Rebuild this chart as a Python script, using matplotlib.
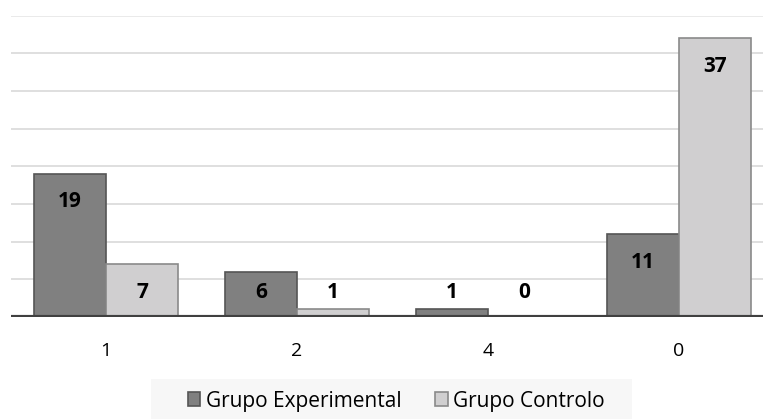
import matplotlib
matplotlib.use("Agg")
import matplotlib.pyplot as plt
from matplotlib.patches import Rectangle
import numpy as np

categorias = ["1", "2", "4", "0"]
experimental = [19, 6, 1, 11]
controlo = [7, 1, 0, 37]
series = ["Grupo Experimental", "Grupo Controlo"]

plt.rcParams["font.family"] = ["Open Sans", "DejaVu Sans"]

W, H = 763, 419
fig = plt.figure(figsize=(W / 100, H / 100), dpi=100)
# plot area: category spacing ~191 px, first center at x=106, baseline y=317, 40 at y=15.7
ax = fig.add_axes([10.5 / W, (H - 317) / H, 764 / W, (317 - 15.7) / H])

x = np.arange(len(categorias))
bw = 0.377
ax.bar(x - bw / 2, experimental, bw, color="#808080", edgecolor="#555555", linewidth=1.2, label=series[0], zorder=3)
ax.bar(x + bw / 2, controlo, bw, color="#d0cfd0", edgecolor="#8a8a8a", linewidth=1.2, label=series[1], zorder=3)

ax.set_ylim(0, 40)
ax.set_xlim(-0.5, len(categorias) - 0.5)
for g in range(5, 41, 5):
    ax.axhline(g, color="#d9d9d9" if g < 40 else "#e6e6e6", linewidth=1.2, zorder=1)
ax.axhline(0, color="#404040", linewidth=3, zorder=4)

# value labels: inside the top of the bar, or at a minimum height for short bars
for xs, vals in ((x - bw / 2, experimental), (x + bw / 2, controlo)):
    for xi, v in zip(xs, vals):
        ax.text(xi, max(v - 3.7, 3.2), str(v), ha="center", va="center",
                fontsize=15, fontweight="bold", color="#000000", zorder=5)

for s in ax.spines.values():
    s.set_visible(False)
ax.set_yticks([])
ax.set_xticks(x)
ax.set_xticklabels(categorias, fontsize=14)
ax.tick_params(axis="x", length=0, pad=18)

# legend background box
fig.patches.append(Rectangle((151 / W, 0), (632 - 151) / W, (H - 379) / H,
                             transform=fig.transFigure, facecolor="#f7f7f7", edgecolor="none", zorder=0))
fig.legend(loc="center", bbox_to_anchor=(396 / W, 1 - 401 / H), ncol=2, frameon=False,
           fontsize=15, handlelength=0.62, handleheight=0.62, handletextpad=0.25,
           columnspacing=1.6, borderpad=0.2)

fig.savefig("out.png", dpi=100)
